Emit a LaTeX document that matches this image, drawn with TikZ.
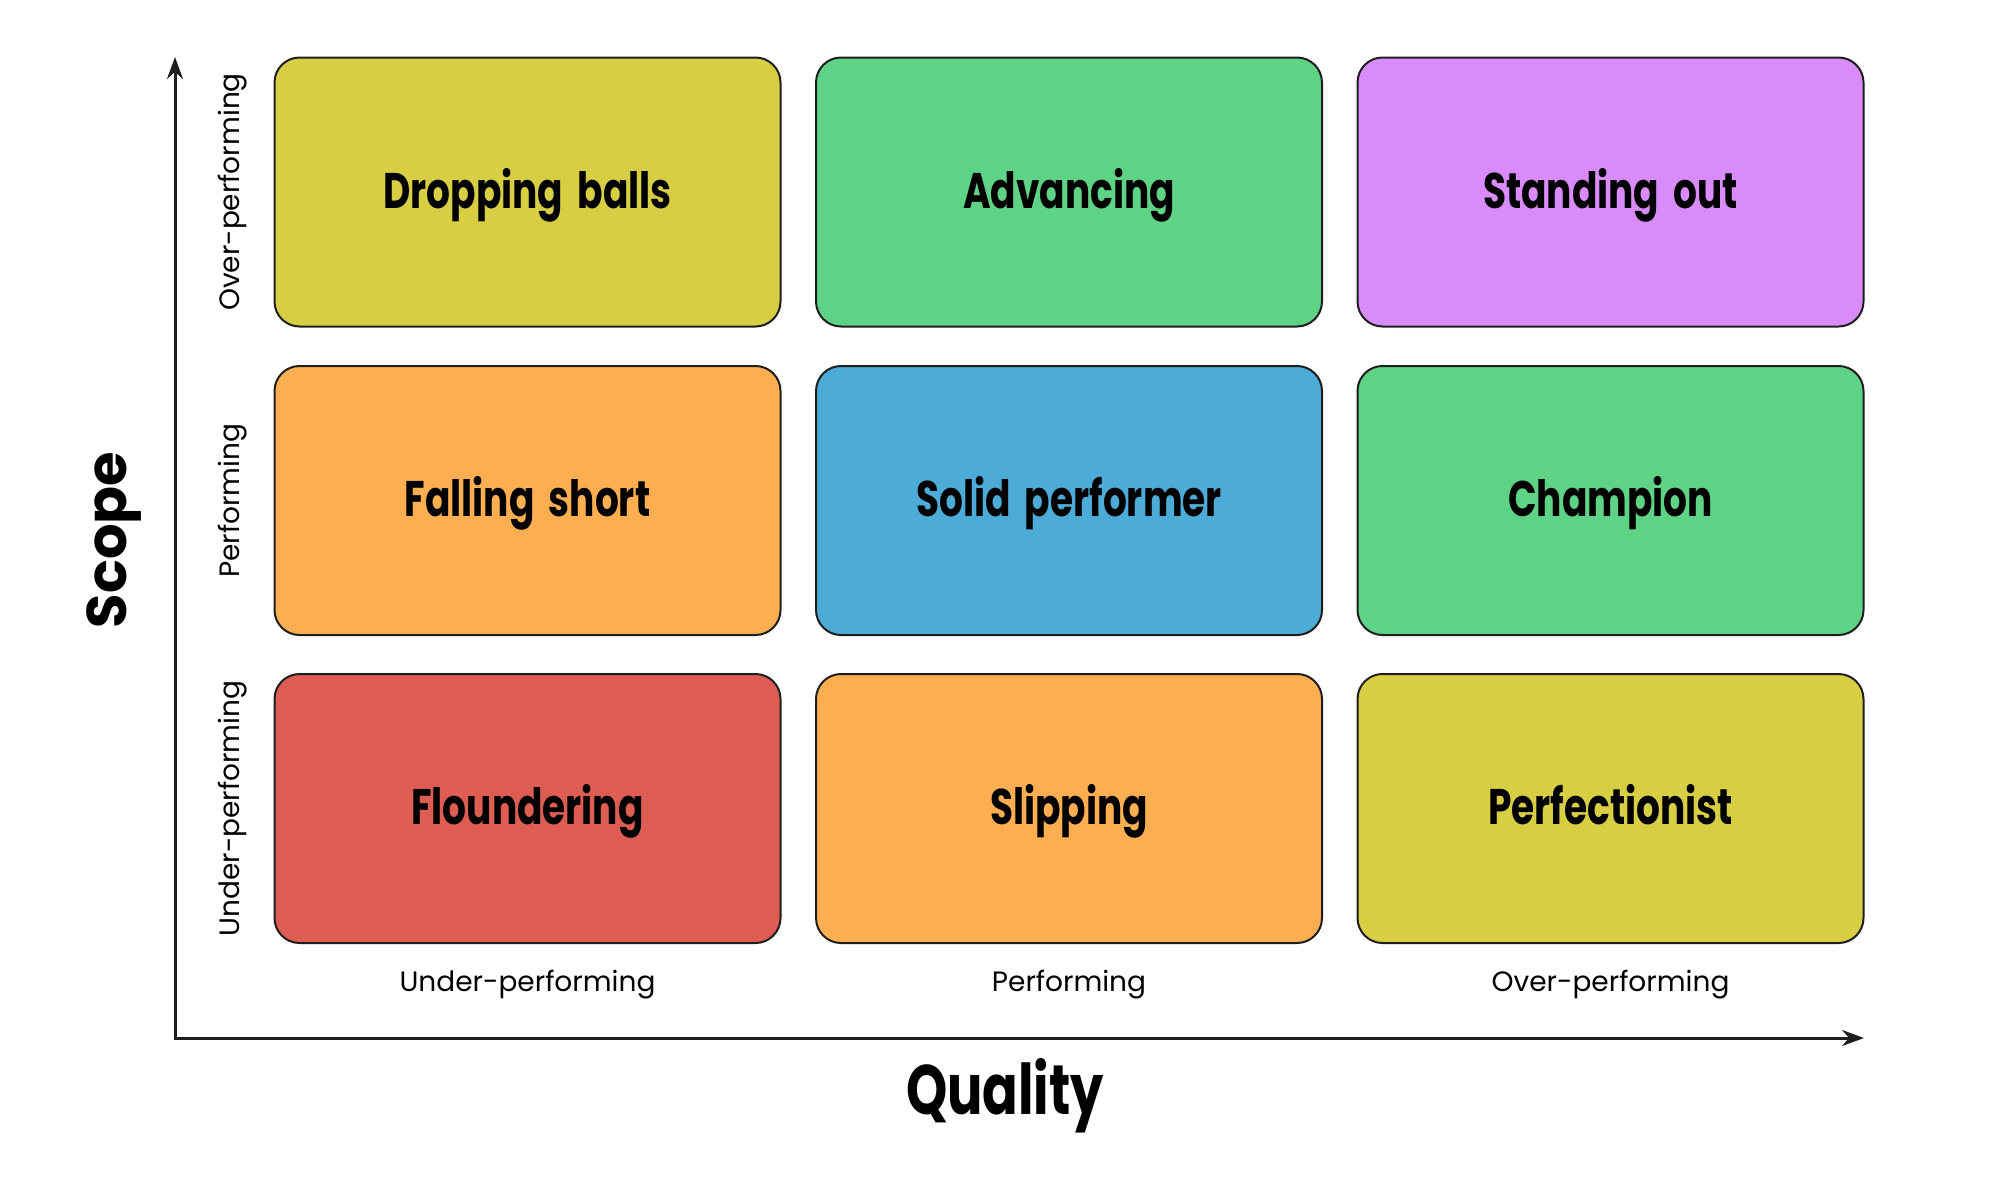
\documentclass[tikz,border=0pt]{standalone}
\usepackage{fontspec}
\setmainfont{Poppins}
\newfontfamily\titlefont[FakeStretch=0.75,WordSpace=1.8]{Poppins}
\usetikzlibrary{arrows.meta}
\definecolor{cyel}{HTML}{D8CE44}
\definecolor{cgrn}{HTML}{5ED285}
\definecolor{cpur}{HTML}{D98BFC}
\definecolor{cora}{HTML}{FDAE51}
\definecolor{cblu}{HTML}{4DACD7}
\definecolor{cred}{HTML}{DE5D53}
\definecolor{cline}{HTML}{1E1E1E}
\tikzset{
  cell/.style={draw=cline, line width=2pt, rounded corners=25pt,
    minimum width=506pt, minimum height=269pt, inner sep=0pt,
    text height=32pt, text depth=0pt,
    font=\titlefont\bfseries\fontsize{50}{56}\selectfont},
  axlabel/.style={font=\fontsize{28}{32}\selectfont, inner sep=0pt},
  bigtitle/.style={font=\titlefont\bfseries\fontsize{70}{78}\selectfont, inner sep=0pt},
  axisline/.style={draw=cline, line width=3pt, {Stealth[length=22pt,width=16pt]}-{Stealth[length=22pt,width=16pt]}}
}
\begin{document}
\begin{tikzpicture}[x=1pt,y=-1pt]
\useasboundingbox (0,0) rectangle (2002,1178);
% axes
\coordinate (O) at (175,1038);
\coordinate (ytip) at (175,57);
\coordinate (xtip) at (1864,1038);
\draw[axisline] (ytip) -- (O) -- (xtip);
% cells
\node[cell, fill=cyel] (c13) at (527.5,192) {Dropping balls};
\node[cell, fill=cgrn] (c23) at (1069,192) {Advancing};
\node[cell, fill=cpur] (c33) at (1610.5,192) {Standing out};
\node[cell, fill=cora] (c12) at (527.5,500.5) {Falling short};
\node[cell, fill=cblu] (c22) at (1069,500.5) {Solid performer};
\node[cell, fill=cgrn] (c32) at (1610.5,500.5) {Champion};
\node[cell, fill=cred] (c11) at (527.5,808.5) {Floundering};
\node[cell, fill=cora] (c21) at (1069,808.5) {Slipping};
\node[cell, fill=cyel] (c31) at (1610.5,808.5) {Perfectionist};
% bottom labels
\node[axlabel] (q1) at (527.5,985) {Under-performing};
\node[axlabel] (q2) at (1069,985) {Performing};
\node[axlabel] (q3) at (1610.5,985) {Over-performing};
% left labels
\node[axlabel, rotate=90] (s3) at (232.5,192) {Over-performing};
\node[axlabel, rotate=90] (s2) at (232.5,500.5) {Performing};
\node[axlabel, rotate=90] (s1) at (232.5,808.5) {Under-performing};
% titles
\node[font=\bfseries\fontsize{56}{62}\selectfont, rotate=90, inner sep=0pt] (scope) at (114,540) {Scope};
\node[bigtitle] (quality) at (1005,1096) {Quality};
\end{tikzpicture}
\end{document}
